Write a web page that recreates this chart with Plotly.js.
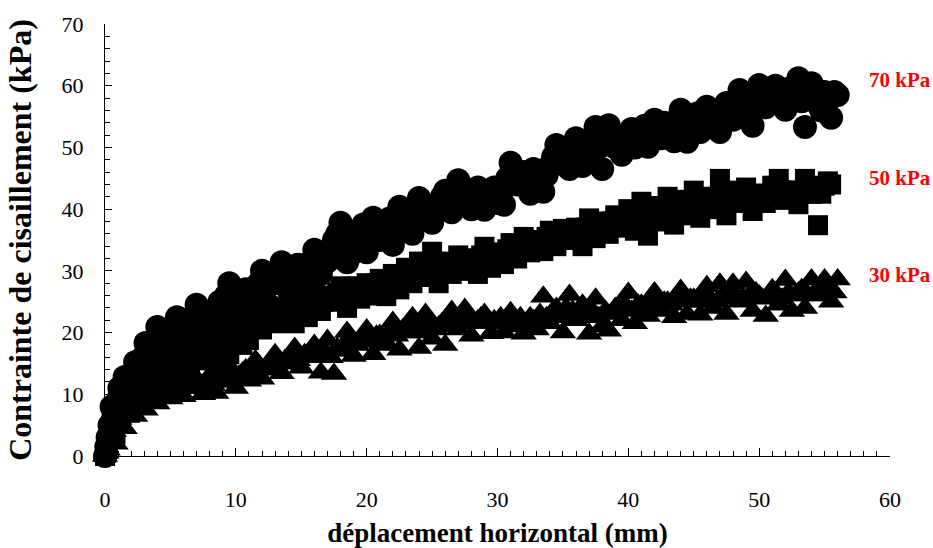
<!DOCTYPE html>
<html>
<head>
<meta charset="utf-8">
<script src="https://cdn.plot.ly/plotly-3.0.1.min.js"></script>
<style>html,body{margin:0;padding:0;background:#fff;}#chart{width:933px;height:548px;}</style>
</head>
<body>
<div id="chart"></div>
<script>
// Horizontal displacement (mm) - main readings
const deplacement = [0,0.2,0.5,0.8,1.1,1.5,1.9,2.3,2.7,3.1,3.6,4.0,4.5,5.0,5.5,6.0,6.5,7.0,7.5,8.0,
  8.5,9.0,9.5,10.0,10.5,11.0,11.5,12.0,12.5,13.0,13.5,14.0,14.5,15.0,15.5,16.0,16.5,17.0,17.5,18.0,
  18.5,19.0,19.5,20.0,20.5,21.0,21.5,22.0,22.5,23.0,23.5,24.0,24.5,25.0,25.5,26.0,26.5,27.0,27.5,28.0,
  28.5,29.0,29.5,30.0,30.5,31.0,31.5,32.0,32.5,33.0,33.5,34.0,34.5,35.0,35.5,36.0,36.5,37.0,37.5,38.0,
  38.5,39.0,39.5,40.0,40.5,41.0,41.5,42.0,42.5,43.0,43.5,44.0,44.5,45.0,45.5,46.0,46.5,47.0,47.5,48.0,
  48.5,49.0,49.5,50.0,50.5,51.0,51.5,52.0,52.5,53.0,53.5,54.0,54.5,55.0,55.5,56.0];

// Horizontal displacement (mm) - intermediate readings
const deplacementInter = [0.1,0.35,0.65,0.95,1.3,1.7,2.1,2.5,2.9,3.35,3.8,4.25,4.75,5.25,5.75,6.25,6.75,7.25,7.75,8.25,
  8.75,9.25,9.75,10.25,10.75,11.25,11.75,12.25,12.75,13.25,13.75,14.25,14.75,15.25,15.75,16.25,16.75,17.25,17.75,18.25,
  18.75,19.25,19.75,20.25,20.75,21.25,21.75,22.25,22.75,23.25,23.75,24.25,24.75,25.25,25.75,26.25,26.75,27.25,27.75,28.25,
  28.75,29.25,29.75,30.25,30.75,31.25,31.75,32.25,32.75,33.25,33.75,34.25,34.75,35.25,35.75,36.25,36.75,37.25,37.75,38.25,
  38.75,39.25,39.75,40.25,40.75,41.25,41.75,42.25,42.75,43.25,43.75,44.25,44.75,45.25,45.75,46.25,46.75,47.25,47.75,48.25,
  48.75,49.25,49.75,50.25,50.75,51.25,51.75,52.25,52.75,53.25,53.75,54.25,54.75,55.25,55.75];

// Shear stress (kPa) at normal stress 70 kPa
const contrainte70 = [0,3,8,6,11,12.8,10,15.2,13,18.3,15,20.9,17,19,22.5,18,21,24.5,20,22.5,
  19.5,24,28,22,26,23.5,25,30,24.5,28,31.4,27,30,26.5,29,33.4,29.5,31.5,35,37.8,
  31.4,34,36,33,38.6,35,37,34.2,40.4,37.5,36,41.8,39,37.8,41,43,39.5,44.7,42,40,
  43.5,39.9,42.5,41,40.7,47.5,44,46,42.5,45,42.8,47,50.4,48,46.5,51.5,47,49,53.3,46.5,
  53.6,50,48.8,52,50,52.5,50.1,54.5,51.5,53,51,56.1,50.9,54,52.5,56.6,54,52.5,57.2,54.5,
  59.3,55,53.5,60.1,56.5,58,59,56.1,57.5,61.2,53.3,60.4,57,59,54.8,58.5];
const contrainte70Inter = [1.5,5,7,9,10.5,12,13,14.5,16,17,18,19.5,18.5,20,21,20,22.5,21.5,23,21,
  25,26,24.5,25,27,26,28,27,29.5,28.5,30,29,31,28,31.5,31,33,33.5,36,34.5,
  32.5,35,37.5,36,37,36.5,38.5,37,39,38.5,40,40,38.5,40,42,41.5,43,43.5,41,42,
  42.5,41.5,43.5,42.5,45,46,45,44,46.5,44,45.5,48.5,49,47,49.5,49.5,48,51,50,51.5,
  52,51.5,50.5,53,51.5,53.5,52,53,54,52.5,54.5,53.5,52.5,55.5,54,55.5,56,55,56,57,
  56.5,58,57.5,58.5,57,60,58,59.5,59,57.5,59.5,58.5,56,57.5,59];

// Shear stress (kPa) at normal stress 50 kPa
const contrainte50 = [0,1.5,5,3.5,8.5,9,7,11.5,9.5,13.5,11,15,12.5,16.5,13,17.5,14,18.5,15.5,19.5,
  14.5,20.5,16.5,21.5,18,18.8,22.5,20.5,24,21.5,23,25,21.5,24,22.5,26.9,23.5,25,25.6,27.5,
  24,26.5,25.5,28,26,28.7,25.9,29.5,27,30.5,28,31.5,29,33.1,28,31,29.5,32.5,30,32,
  29.5,33.9,30.5,33,31.1,34.5,32,35.5,33,34.5,33.2,36.5,34,36.8,35,37,34,38.5,35.3,37.5,
  36,39,37,40,36.5,41.2,35.7,40.5,38,42,37.5,41.5,39,43,38.6,42,40,44.9,39,43,
  41,43.5,39.7,42.5,41,43.8,44.9,41.5,43,40.8,44.9,42.5,37.4,43.8,44,null];
const contrainte50Inter = [0.5,3,6,6.5,9.5,8,10.5,11,11.5,12.5,12.5,13.5,14.5,14,15.5,16,16.5,16,17.5,17,
  18,18.5,19,19.5,20.5,21,21.5,22.5,22,23.5,23,23.5,24,24.5,24.5,25.5,25,26,26.5,26,
  27,27.5,27,27.5,28,27.5,28.5,28.5,29,29.5,29.5,30.5,31,30.5,30.5,31.5,31,31.5,31.5,32,
  32.5,32,32.5,32.5,33.5,33.5,34,34,35,35,35.5,35.5,35.5,36,36.5,36.5,37,37,37.5,38,
  38,38.5,38.5,39,39.5,38.5,39.5,40,40.5,40,40.5,41,41.5,41,40.5,41.5,42,42.5,41.5,41.5,
  42,42.5,41.5,42,42.5,42,43,42.5,43,42.5,43,43.5,42.5,44.5,null];

// Shear stress (kPa) at normal stress 30 kPa
const contrainte30 = [0,1,3.5,2,6,4.5,7.5,6.5,9,7.5,10,8.5,11,9.3,12,9.7,11,12.5,10,13,
  10.2,12,14.5,11,13.5,12.2,15.5,12.5,14,16.5,13.4,15,17.5,14.3,16,18,13.5,18.8,13.3,17,
  20.1,16.2,18.5,20.5,16.5,19.6,18,21.7,17.2,20,22.5,17.5,23,19,21,18,23.5,20.5,23.8,19.5,
  22,23,19.9,21.5,20,23.3,21,19.8,22.5,20.5,25.8,21.5,24,20,26.1,22,24.5,19.8,25.5,21,
  20.3,24,22,26.4,21.5,24.5,22.7,26.5,23.5,25,22.5,26.9,23,25.5,22.9,27.5,24,27.9,23,27.9,
  25,28.2,23.5,26,22.7,27,24.5,28.5,23.5,26.5,24,28.6,26,28.6,25,28.6];
const contrainte30Inter = [0.5,2.5,4,5.5,6.5,7.5,8,8.5,9,9.5,9.5,10,10.5,10.5,11,11,11.5,11.5,12,11.5,
  12.5,13,12.5,13,14,13.5,14.5,14,15,15,15.5,16,15.5,16.5,16,16.5,17,16,17.5,18,
  18.5,18,19,18.5,19.5,19,20,19.5,20.5,21,20,21,21.5,20.5,21.5,22,21.5,22,22,21.5,
  22.5,21.5,22,22.5,21.5,22,22.5,21.5,22,23,22.5,23.5,22.5,24,23.5,23,22.5,23.5,22.5,23.5,
  23,24,24.5,23.5,24.5,24,25,24.5,25,24.5,25.5,25,25.5,25,26,25.5,25,26,25.5,26,
  25.5,26,26.5,25.5,26,26.5,25.5,26.5,26,27,26,26.5,27,27,26.5];

const seriesLabels = ['70 kPa', '50 kPa', '30 kPa'];
const xTitle = 'déplacement horizontal (mm)';
const yTitle = 'Contrainte de cisaillement (kPa)';

const serif = 'Liberation Serif, Times New Roman, serif';

function markerTrace(xa, xb, ya, yb, name, symbol, size) {
  return {x: xa.concat(xb), y: ya.concat(yb), name: name, type: 'scatter', mode: 'markers',
    cliponaxis: false, marker: {symbol: symbol, size: size, color: '#000', line: {width: 0}}};
}

const traces = [
  markerTrace(deplacement, deplacementInter, contrainte30, contrainte30Inter, seriesLabels[2], 'triangle-up', 23),
  markerTrace(deplacement, deplacementInter, contrainte50, contrainte50Inter, seriesLabels[1], 'square', 20),
  markerTrace(deplacement, deplacementInter, contrainte70, contrainte70Inter, seriesLabels[0], 'circle', 24)
];

const layout = {
  width: 933, height: 548,
  margin: {l: 105, r: 43, t: 24, b: 92},
  paper_bgcolor: '#fff', plot_bgcolor: '#fff',
  showlegend: false,
  font: {family: serif, color: '#000', size: 22},
  xaxis: {
    range: [0, 60], dtick: 10, tick0: 0,
    showgrid: false, zeroline: false,
    showline: true, linecolor: '#000', linewidth: 1,
    ticks: 'inside', ticklen: 8, tickcolor: '#000', tickwidth: 1,
    minor: {dtick: 1, ticks: 'inside', ticklen: 5, tickcolor: '#000', tickwidth: 1, showgrid: false},
    ticklabelstandoff: 24,
    tickfont: {family: serif, size: 22, color: '#000'},
    layer: 'below traces',
    title: {text: xTitle, font: {family: serif, size: 27, color: '#000', weight: 'bold'}, standoff: 21}
  },
  yaxis: {
    range: [0, 70], dtick: 10, tick0: 0,
    showgrid: false, zeroline: false,
    showline: true, linecolor: '#000', linewidth: 1,
    ticks: 'inside', ticklen: 7, tickcolor: '#000', tickwidth: 1,
    minor: {dtick: 2, ticks: 'inside', ticklen: 5, tickcolor: '#000', tickwidth: 1, showgrid: false},
    ticklabelstandoff: 16,
    tickfont: {family: serif, size: 22, color: '#000'},
    layer: 'below traces',
    title: {text: yTitle, font: {family: serif, size: 32, color: '#000', weight: 'bold'}, standoff: 20}
  },
  annotations: [
    {xref: 'paper', yref: 'paper', x: 0.9707, y: 0.870, xanchor: 'left', yanchor: 'middle',
     text: seriesLabels[0], showarrow: false, font: {family: serif, size: 21, color: '#ff0000', weight: 'bold'}},
    {xref: 'paper', yref: 'paper', x: 0.9707, y: 0.6435, xanchor: 'left', yanchor: 'middle',
     text: seriesLabels[1], showarrow: false, font: {family: serif, size: 21, color: '#ff0000', weight: 'bold'}},
    {xref: 'paper', yref: 'paper', x: 0.9707, y: 0.419, xanchor: 'left', yanchor: 'middle',
     text: seriesLabels[2], showarrow: false, font: {family: serif, size: 21, color: '#ff0000', weight: 'bold'}}
  ]
};

Plotly.newPlot('chart', traces, layout, {displayModeBar: false, staticPlot: true});
</script>
</body>
</html>
